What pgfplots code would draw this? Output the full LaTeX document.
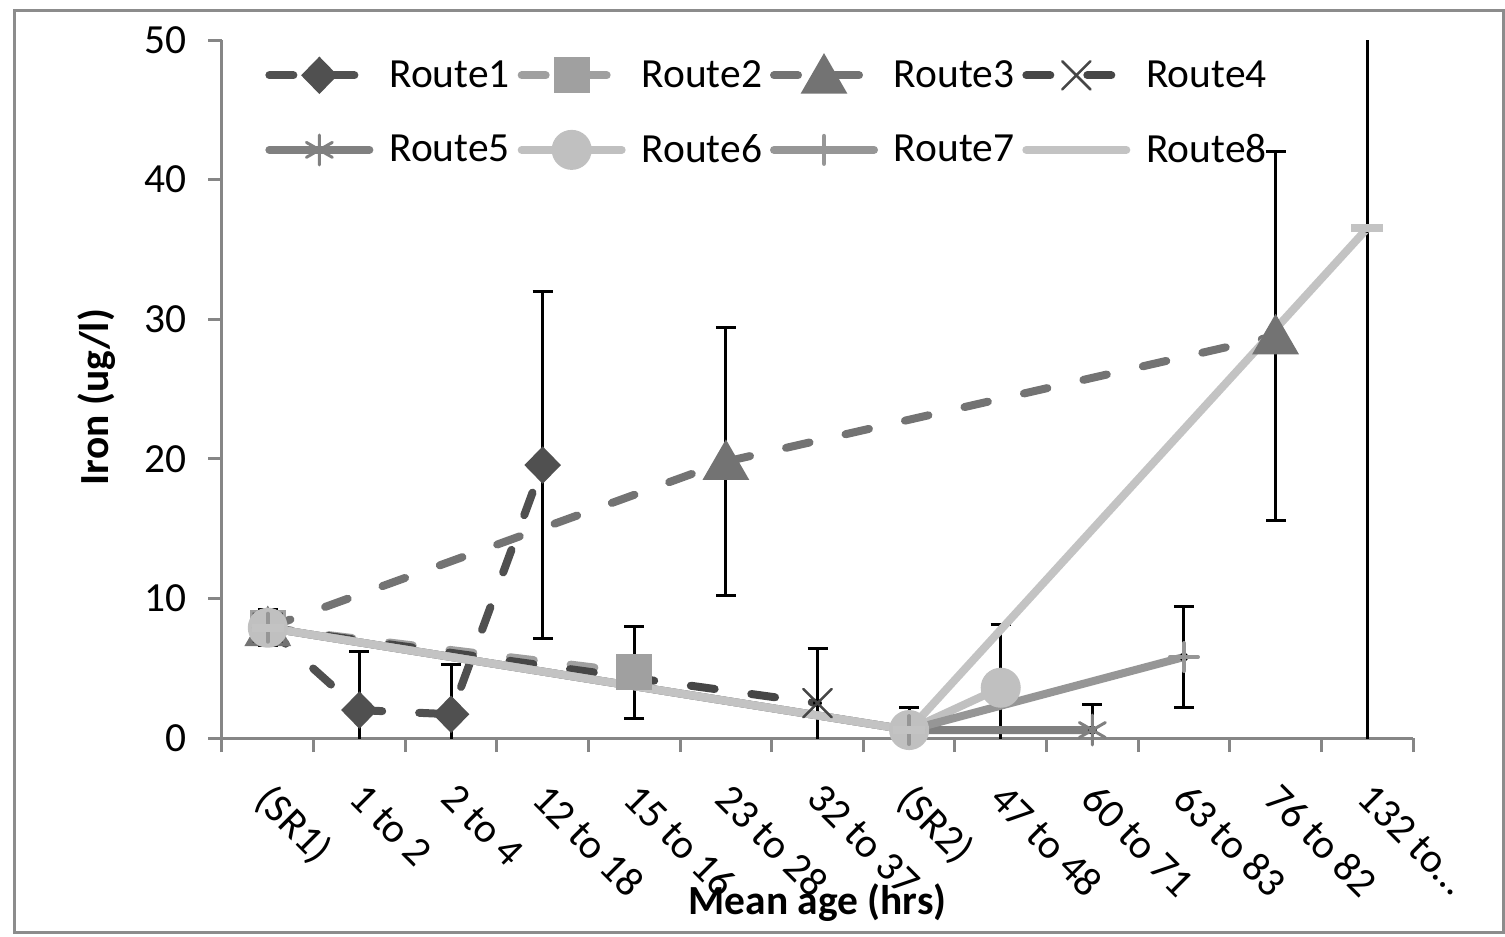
\documentclass[border=0pt]{standalone}
\usepackage{fontspec}
\setmainfont{Carlito}
\usepackage{pgfplots}
\pgfplotsset{compat=1.18}
\definecolor{cA}{HTML}{505050}
\definecolor{cB}{HTML}{A0A0A0}
\definecolor{cC}{HTML}{737373}
\definecolor{cD}{HTML}{464646}
\definecolor{cE}{HTML}{808080}
\definecolor{cF}{HTML}{C0C0C0}
\definecolor{cG}{HTML}{969696}
\definecolor{cH}{HTML}{C3C3C3}
\definecolor{axgray}{HTML}{868686}
\definecolor{framegray}{HTML}{8C8C8C}
\newcommand{\cf}{\fontsize{20.8}{25}\selectfont}
\begin{document}
\begin{tikzpicture}
\begin{axis}[
  name=ax, at={(0,0)}, anchor=south west,
  width=595.5bp, height=349bp, scale only axis,
  xmin=-0.5, xmax=12.5, ymin=0, ymax=50,
  axis x line*=bottom, axis y line*=left,
  axis line style={-, draw=axgray, line width=1.5bp},
  xtick={-0.5,0.5,...,12.5},
  xticklabels={(SR1),1 to 2,2 to 4,12 to 18,15 to 16,23 to 28,32 to 37,(SR2),47 to 48,60 to 71,63 to 83,76 to 82,132 to…,{}},
  ytick={0,10,...,50},
  tick align=outside, major tick length=7bp,
  tick style={draw=axgray, line width=1.5bp},
  /pgf/number format/assume math mode=true,
  tick label style={font=\cf},
  xticklabel style={xshift=26.6bp, yshift=-9.8bp, rotate=-45, anchor=north west},
  yticklabel style={xshift=-7bp},
  xlabel={\textbf{Mean age (hrs)}},
  ylabel={\textbf{Iron (ug/l)}},
  label style={font=\cf},
  xlabel style={at={(axis description cs:0.5,-0.2364)}, anchor=center},
  ylabel style={at={(axis description cs:-0.105,0.4885)}, anchor=center},
  legend columns=4,
  legend cell align=left,
  legend style={at={(axis description cs:0,1)}, anchor=north west, xshift=18.5bp, yshift=-6bp,
    draw=none, fill=none, font=\cf, row sep=18bp, column sep=6bp,
    /tikz/every even column/.append style={column sep=2bp}},
  legend image code/.code={\draw[mark repeat=2,mark phase=2,#1] plot coordinates {(0bp,0bp) (25bp,0bp) (50bp,0bp)};},
]
% error bars (drawn first, beneath the lines)
\addplot[forget plot, only marks, mark=none,
  error bars/.cd, y dir=both, y explicit,
  error bar style={black, line width=1.5bp, solid},
  error mark options={rotate=90, black, line width=1.5bp, mark size=5bp, solid}]
  coordinates {
  (0,7.9) +- (0,1.3)
  (1,2.0) +- (0,4.2)
  (2,1.7) +- (0,3.6)
  (3,19.55) +- (0,12.45)
  (4,4.7) +- (0,3.3)
  (5,19.8) +- (0,9.6)
  (6,2.5) +- (0,3.9)
  (7,0.57) +- (0,1.65)
  (8,3.6) +- (0,4.5)
  (9,0.57) +- (0,1.8)
  (10,5.8) +- (0,3.65)
  (11,28.8) +- (0,13.2)
  (12,36.5) +- (0,40)
  };
% Route1
\addplot[color=cA, line width=4bp, line cap=round, dash pattern=on 12bp off 18.5bp,
  mark=diamond*, mark size=6.5bp, mark options={solid, fill=cA, draw=none, xscale=1.3}]
  coordinates {(0,7.9) (1,2.0) (2,1.7) (3,19.55)};
\addlegendentry{Route1}
% Route2
\addplot[color=cB, line width=4bp, line cap=round, dash pattern=on 12bp off 18.5bp,
  mark=square*, mark size=7bp, mark options={solid, fill=cB, draw=none}]
  coordinates {(0,7.9) (4,4.7)};
\addlegendentry{Route2}
% Route3
\addplot[color=cC, line width=4bp, line cap=round, dash pattern=on 12bp off 18.5bp,
  mark=triangle*, mark size=9.5bp, mark options={solid, fill=cC, draw=none, yshift=-2.4bp}]
  coordinates {(0,7.9) (5,19.8) (11,28.8)};
\addlegendentry{Route3}
% Route4
\addplot[color=cD, line width=4bp, line cap=round, dash pattern=on 12bp off 18.5bp,
  mark=x, mark size=10bp, mark options={solid, line width=1.3bp}]
  coordinates {(0,7.9) (6,2.5)};
\addlegendentry{Route4}
% Route5
\addplot[color=cE, line width=4bp, line cap=round,
  mark=asterisk, mark size=7.5bp, mark options={solid, line width=1.5bp}]
  coordinates {(0,7.9) (7,0.57) (9,0.57)};
\addlegendentry{Route5}
% Route6
\addplot[color=cF, line width=4bp, line cap=round,
  mark=*, mark size=8bp, mark options={solid, fill=cF, draw=none}]
  coordinates {(0,7.9) (7,0.57) (8,3.6)};
\addlegendentry{Route6}
% Route7
\addplot[color=cG, line width=4bp, line cap=round,
  mark=+, mark size=7bp, mark options={solid, line width=2bp}]
  coordinates {(0,7.9) (7,0.57) (10,5.8)};
\addlegendentry{Route7}
% Route8
\addplot[color=cH, line width=4bp, line cap=round,
  mark=-, mark size=8bp, mark options={solid, line width=4bp, line cap=butt}]
  coordinates {(0,7.9) (7,0.57) (12,36.5)};
\addlegendentry{Route8}
\end{axis}
\draw[framegray, line width=1.5bp] ([shift={(-103.5bp,-97bp)}]ax.south west) rectangle ([shift={(640.5bp,363.5bp)}]ax.south west);
\pgfresetboundingbox
\path[use as bounding box] ([shift={(-111bp,-99.5bp)}]ax.south west) rectangle ([shift={(641.5bp,369bp)}]ax.south west);
\end{tikzpicture}
\end{document}
